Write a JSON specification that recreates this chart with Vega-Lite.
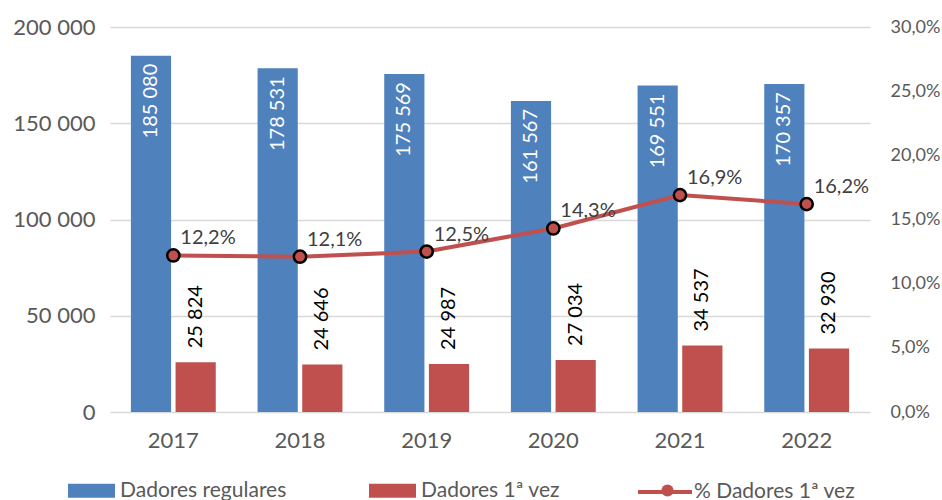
{
  "$schema": "https://vega.github.io/schema/vega-lite/v6.json",
  "width": 760,
  "height": 385,
  "autosize": {"type": "none"},
  "padding": {"left": 110, "top": 27, "right": 72, "bottom": 88},
  "config": {
    "locale": {"number": {"decimal": ",", "thousands": " ", "grouping": [3], "currency": ["", " €"]}},
    "font": "Lato",
    "view": {"stroke": null},
    "axis": {"labelFont": "Lato", "labelFontSize": 21, "labelColor": "#595959", "domain": false, "ticks": false, "title": null},
    "legend": {"labelFont": "Lato", "labelFontSize": 21, "labelColor": "#595959", "title": null, "labelLimit": 400}
  },
  "datasets": {
    "barras": [
      {"ano": "2017", "serie": "Dadores regulares", "valor": 185080},
      {"ano": "2017", "serie": "Dadores 1ª vez", "valor": 25824},
      {"ano": "2018", "serie": "Dadores regulares", "valor": 178531},
      {"ano": "2018", "serie": "Dadores 1ª vez", "valor": 24646},
      {"ano": "2019", "serie": "Dadores regulares", "valor": 175569},
      {"ano": "2019", "serie": "Dadores 1ª vez", "valor": 24987},
      {"ano": "2020", "serie": "Dadores regulares", "valor": 161567},
      {"ano": "2020", "serie": "Dadores 1ª vez", "valor": 27034},
      {"ano": "2021", "serie": "Dadores regulares", "valor": 169551},
      {"ano": "2021", "serie": "Dadores 1ª vez", "valor": 34537},
      {"ano": "2022", "serie": "Dadores regulares", "valor": 170357},
      {"ano": "2022", "serie": "Dadores 1ª vez", "valor": 32930}
    ],
    "pct": [
      {"ano": "2017", "pct": 0.122},
      {"ano": "2018", "pct": 0.121},
      {"ano": "2019", "pct": 0.125},
      {"ano": "2020", "pct": 0.143},
      {"ano": "2021", "pct": 0.169},
      {"ano": "2022", "pct": 0.162}
    ]
  },
  "layer": [
    {
      "data": {"name": "barras"},
      "encoding": {
        "x": {"field": "ano", "type": "nominal", "scale": {"paddingInner": 0.33, "paddingOuter": 0.165}, "axis": {"labelAngle": 0, "labelPadding": 18, "labelFontSize": 22, "grid": false}},
        "xOffset": {"field": "serie", "type": "nominal", "sort": ["Dadores regulares", "Dadores 1ª vez"], "scale": {"paddingInner": 0.1}},
        "y": {"field": "valor", "type": "quantitative", "scale": {"domain": [0, 200000]}, "axis": {"orient": "left", "values": [0, 50000, 100000, 150000, 200000], "format": ",.0f", "grid": true, "gridColor": "#D9D9D9", "gridWidth": 1.5, "labelPadding": 15, "labelFontSize": 22}}
      },
      "layer": [
        {
          "mark": {"type": "bar"},
          "encoding": {
            "color": {"field": "serie", "type": "nominal", "sort": ["Dadores regulares", "Dadores 1ª vez"],
              "scale": {"domain": ["Dadores regulares", "Dadores 1ª vez"], "range": ["#4F81BD", "#C0504D"]},
              "legend": {"orient": "none", "legendX": -42, "legendY": 440, "direction": "horizontal", "symbolType": "M-1,-0.3H1V0.3H-1Z", "symbolSize": 2209, "symbolStrokeWidth": 0, "columnPadding": 82, "labelOffset": 5}}
          }
        },
        {
          "transform": [{"filter": "datum.serie === 'Dadores regulares'"}],
          "mark": {"type": "text", "angle": 270, "align": "right", "baseline": "middle", "dx": -8, "color": "white", "fontSize": 20},
          "encoding": {"text": {"field": "valor", "type": "quantitative", "format": ","}}
        },
        {
          "transform": [{"filter": "datum.serie === 'Dadores 1ª vez'"}],
          "mark": {"type": "text", "angle": 270, "align": "left", "baseline": "middle", "dx": 14, "color": "black", "fontSize": 20},
          "encoding": {"text": {"field": "valor", "type": "quantitative", "format": ","}}
        }
      ]
    },
    {
      "data": {"name": "pct"},
      "encoding": {
        "x": {"field": "ano", "type": "nominal"},
        "y": {"field": "pct", "type": "quantitative", "scale": {"domain": [0, 0.3]}, "axis": {"orient": "right", "values": [0, 0.05, 0.1, 0.15, 0.2, 0.25, 0.3], "format": ".1%", "grid": false, "labelPadding": 20, "labelFontSize": 18}}
      },
      "layer": [
        {
          "mark": {"type": "line", "strokeWidth": 4},
          "encoding": {
            "stroke": {"datum": "% Dadores 1ª vez", "scale": {"range": ["#C0504D"]},
              "legend": {"orient": "none", "legendX": 526, "legendY": 436, "symbolType": "stroke", "symbolSize": 2916, "symbolStrokeWidth": 4, "labelOffset": 0}}
          }
        },
        {
          "mark": {"type": "point", "filled": true, "fill": "#C0504D", "stroke": "black", "strokeWidth": 2.5, "size": 150, "opacity": 1},
          "encoding": {
            "shape": {"datum": "marcador", "scale": {"range": ["circle"]},
              "legend": {"orient": "none", "legendX": 547, "legendY": 453, "symbolSize": 150, "symbolFillColor": "#C0504D", "symbolStrokeColor": "black", "symbolStrokeWidth": 2.5, "labelExpr": "''"}}
          }
        },
        {
          "mark": {"type": "text", "align": "left", "baseline": "middle", "dx": 7, "dy": -17, "color": "#404040", "fontSize": 20},
          "encoding": {"text": {"field": "pct", "type": "quantitative", "format": ".1%"}}
        }
      ]
    }
  ],
  "resolve": {"scale": {"y": "independent"}}
}
